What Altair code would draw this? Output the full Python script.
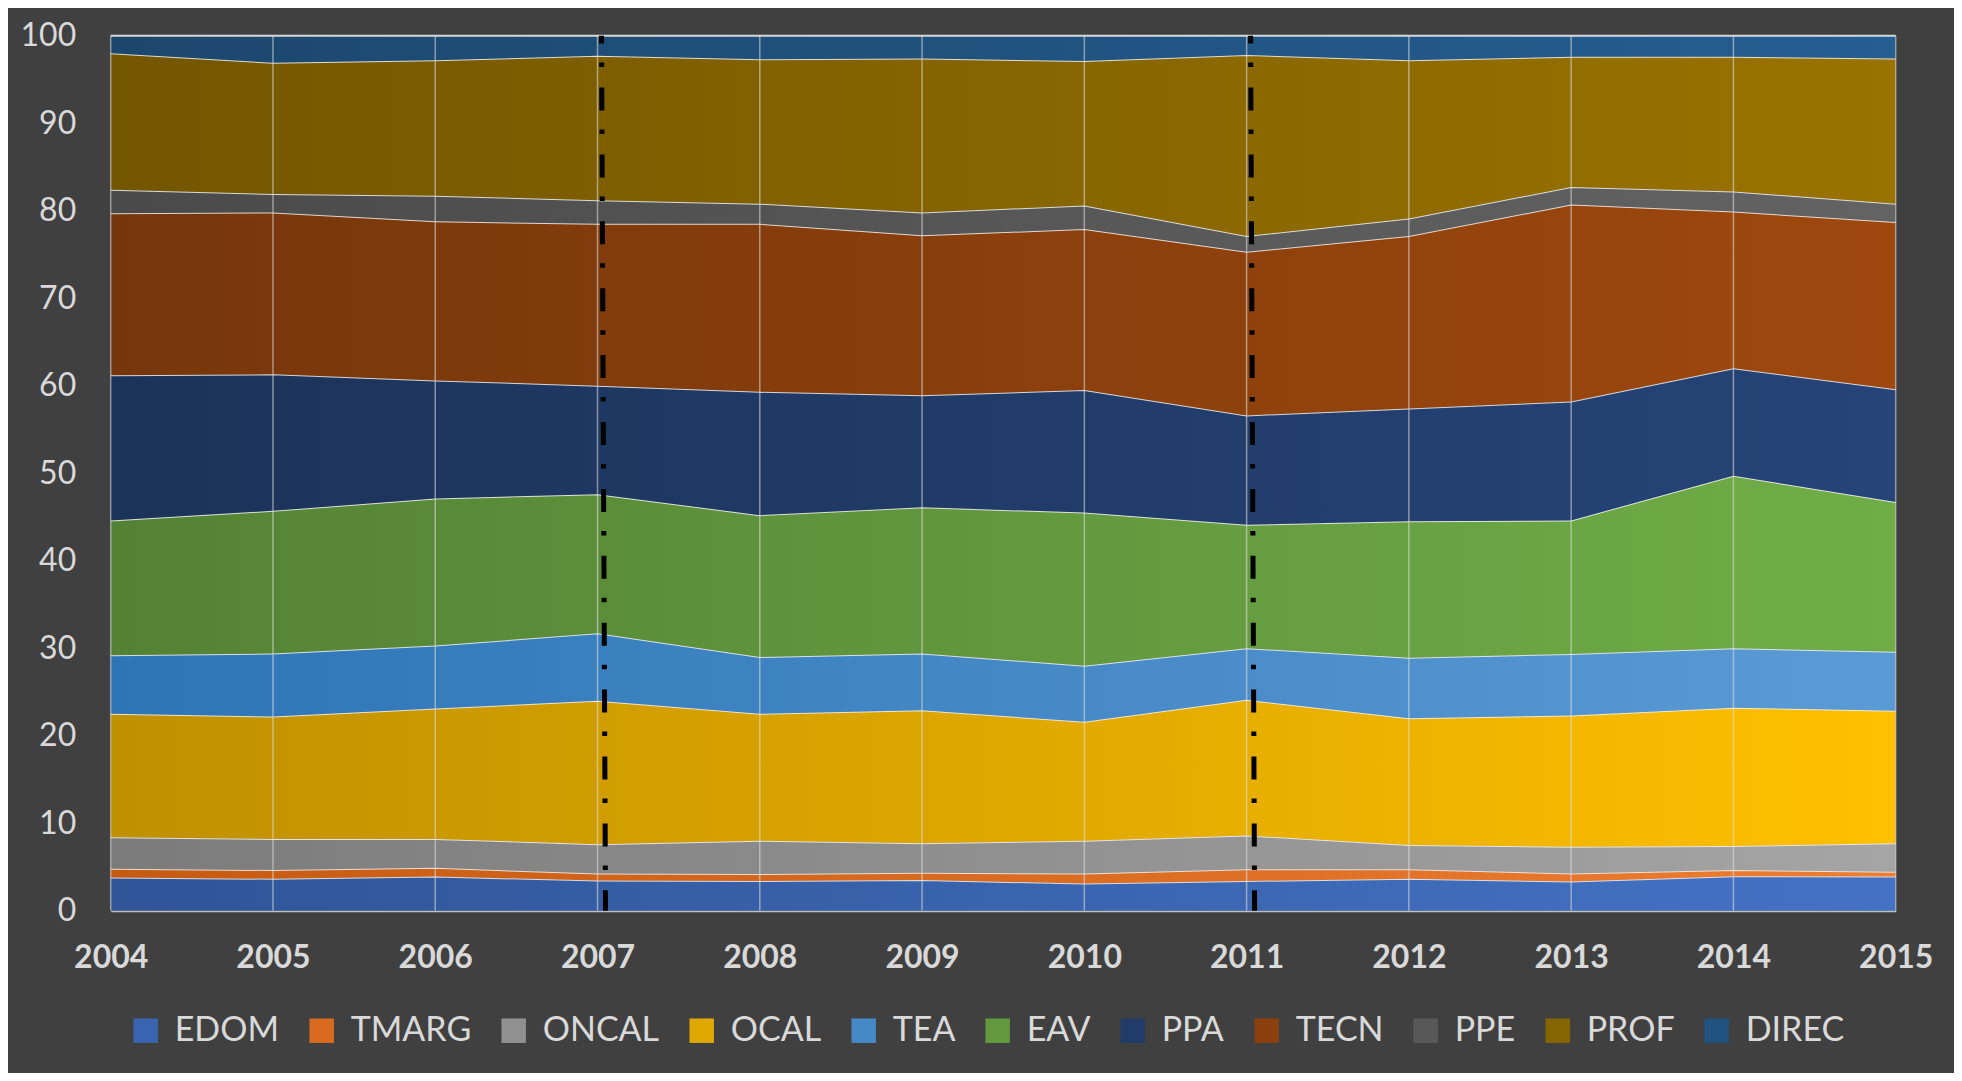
import altair as alt
import pandas as pd

years = list(range(2004, 2016))
series = ["EDOM", "TMARG", "ONCAL", "OCAL", "TEA", "EAV", "PPA", "TECN", "PPE", "PROF", "DIREC"]

EDOM = [3.8, 3.65, 3.9, 3.45, 3.4, 3.5, 3.1, 3.4, 3.65, 3.35, 3.95, 3.9]
TMARG = [1.0, 1.0, 1.0, 0.8, 0.8, 0.85, 1.15, 1.35, 1.1, 0.9, 0.7, 0.55]
ONCAL = [3.6, 3.55, 3.3, 3.35, 3.8, 3.35, 3.75, 3.85, 2.75, 3.05, 2.75, 3.25]
OCAL = [14.1, 14.0, 14.9, 16.4, 14.5, 15.2, 13.6, 15.5, 14.5, 15.0, 15.8, 15.15]
TEA = [6.7, 7.2, 7.2, 7.7, 6.5, 6.5, 6.4, 5.9, 6.9, 7.05, 6.8, 6.75]
EAV = [15.4, 16.3, 16.8, 15.9, 16.2, 16.7, 17.5, 14.1, 15.6, 15.25, 19.7, 17.1]
PPA = [16.6, 15.6, 13.5, 12.4, 14.1, 12.8, 14.0, 12.5, 12.9, 13.6, 12.3, 12.9]
TECN = [18.5, 18.5, 18.2, 18.5, 19.2, 18.3, 18.4, 18.7, 19.7, 22.5, 17.9, 19.1]
PPE = [2.7, 2.1, 2.9, 2.7, 2.3, 2.6, 2.7, 1.8, 2.0, 2.0, 2.3, 2.1]
PROF = [15.6, 15.0, 15.5, 16.5, 16.5, 17.6, 16.5, 20.7, 18.1, 14.9, 15.4, 16.6]
DIREC = [2.0, 3.1, 2.8, 2.3, 2.7, 2.6, 2.9, 2.2, 2.8, 2.4, 2.4, 2.6]

values = [EDOM, TMARG, ONCAL, OCAL, TEA, EAV, PPA, TECN, PPE, PROF, DIREC]

dark = ["#2f5597", "#c55a11", "#7b7b7b", "#bf9000", "#2e75b6", "#548235",
        "#1c3359", "#76360b", "#4a4a4a", "#735600", "#1c476d"]
light = ["#4472c4", "#ed7d31", "#a5a5a5", "#ffc000", "#5b9bd5", "#70ad47",
         "#264478", "#9e480e", "#636363", "#997300", "#255e91"]
swatch = ["#3a64b0", "#d96b21", "#909090", "#dfa800", "#4588c6", "#62983e",
          "#213c69", "#8a3f0d", "#585858", "#866500", "#20527f"]

marker_years = [2007, 2011]
y_ticks = list(range(0, 101, 10))

rows = []
for i, (s, vals) in enumerate(zip(series, values)):
    for yr, v in zip(years, vals):
        rows.append({"year": yr, "series": s, "order": i, "value": v})
df = pd.DataFrame(rows)

TXT = "#d9d9d9"
FONT = "Lato"

base = alt.Chart(df).transform_stack(
    stack="value", groupby=["year"], as_=["y0", "y1"],
    sort=[alt.SortField("order", order="ascending")],
)

x_enc = alt.X(
    "year:Q",
    scale=alt.Scale(domain=[2004, 2015], nice=False, zero=False),
    axis=alt.Axis(
        values=years, format="d", title=None, grid=False, ticks=False,
        domainColor="#bfbfbf", domainWidth=2,
        labelFontSize=32, labelFontWeight="bold", labelColor=TXT, labelFont=FONT,
        labelPadding=47, labelBaseline="middle", labelFlush=False, labelOverlap=False,
    ),
)
y_enc = alt.Y(
    "y1:Q",
    scale=alt.Scale(domain=[0, 100], nice=False),
    axis=alt.Axis(
        values=y_ticks, title=None, grid=False, ticks=False, domain=False,
        labelFontSize=32, labelColor=TXT, labelFont=FONT, labelPadding=35,
    ),
)

layers = []
for i, s in enumerate(series):
    grad = alt.LinearGradient(
        gradient="linear",
        stops=[alt.GradientStop(color=dark[i], offset=0),
               alt.GradientStop(color=light[i], offset=1)],
        x1=0, x2=1, y1=0, y2=0,
    )
    layers.append(
        base.transform_filter(alt.datum.series == s)
        .mark_area(color=grad, opacity=1, fillOpacity=1,
                   line={"color": "#f2f2f2", "strokeWidth": 2, "opacity": 0.85})
        .encode(x=x_enc, y=y_enc, y2="y0:Q")
    )

grid = alt.Chart(pd.DataFrame({"year": years})).mark_rule(
    color="#e0e0e0", opacity=0.55, strokeWidth=1.5
).encode(x=alt.X("year:Q"), y=alt.datum(100), y2=alt.datum(0))

dashes = alt.Chart(pd.DataFrame({"year": marker_years})).mark_rule(
    color="black", strokeWidth=5, strokeDash=[23, 19, 4.5, 20.4], strokeDashOffset=15.1,
    xOffset=4, x2Offset=8,
).encode(x=alt.X("year:Q"), x2=alt.X2("year:Q"), y=alt.datum(100), y2=alt.datum(0))

legend_layer = base.mark_square(opacity=0).encode(
    x=x_enc, y=y_enc,
    color=alt.Color(
        "series:N",
        scale=alt.Scale(domain=series, range=swatch),
        legend=alt.Legend(
            orient="none", legendX=18, legendY=978, direction="horizontal", columns=11,
            title=None, symbolType="square", symbolSize=600, symbolOpacity=1,
            symbolStrokeWidth=0, labelFontSize=34, labelColor=TXT, labelFont=FONT,
            labelOffset=12, columnPadding=25, labelLimit=400,
        ),
    ),
)

chart = alt.layer(*layers, grid, dashes, legend_layer).properties(
    width=1785, height=875,
    padding={"left": 102.7, "top": 27.7, "right": 58.3, "bottom": 162.3},
    autosize=alt.AutoSizeParams(type="none"),
    background="#404040",
).configure_view(stroke=None)

chart.save("out.html", embed_options={"renderer": "svg", "actions": False})
